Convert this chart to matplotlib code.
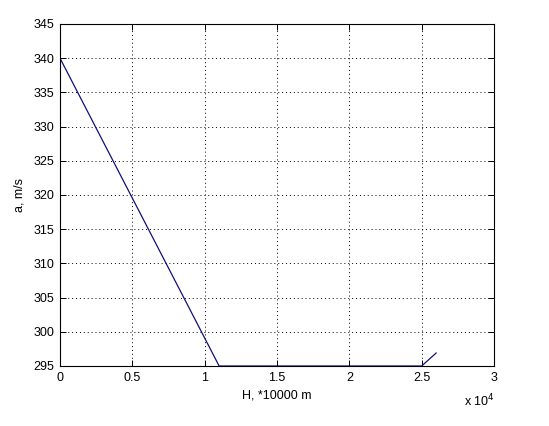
import matplotlib
matplotlib.use('Agg')
import matplotlib.pyplot as plt
from matplotlib.ticker import FuncFormatter

plt.rcParams['font.family'] = ['Liberation Sans', 'DejaVu Sans']

# altitude (m) and speed of sound (m/s)
H = [0, 11000, 25000, 26000]
a = [340, 295, 295, 296.9]

x_ticks = [0, 5000, 10000, 15000, 20000, 25000, 30000]
y_ticks = [295, 300, 305, 310, 315, 320, 325, 330, 335, 340, 345]

fig = plt.figure(figsize=(5.49, 4.26), dpi=100)
ax = fig.add_axes([60 / 549, 60 / 426, 434 / 549, 342 / 426])

ax.plot(H, a, color='#10107a', linewidth=0.9)

ax.set_xlim(0, 30000)
ax.set_ylim(295, 345)
ax.set_xticks(x_ticks)
ax.set_yticks(y_ticks)
ax.xaxis.set_major_formatter(FuncFormatter(lambda v, p: f'{v / 1e4:g}'))

ax.grid(True, color='black', linestyle=(0, (1, 3)), linewidth=0.7)
ax.tick_params(direction='in', length=4, width=0.7, labelsize=9,
               top=True, right=True, pad=4)
for s in ax.spines.values():
    s.set_linewidth(0.8)

ax.set_xlabel('H, *10000 m', fontsize=9, labelpad=4)
ax.set_ylabel('a, m/s', fontsize=9, labelpad=6)
fig.text(464 / 549, 1 - 406 / 426, 'x 10$^{4}$', fontsize=9, va='baseline')

fig.savefig('out.png', dpi=100)
